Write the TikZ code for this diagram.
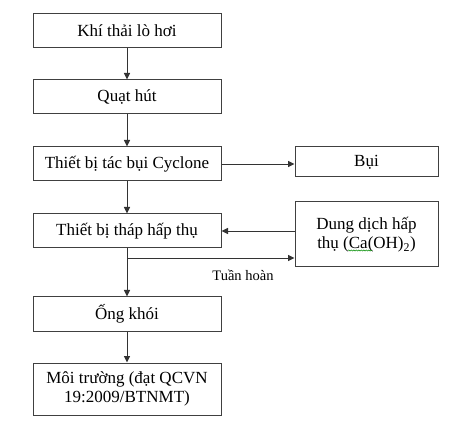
\documentclass[tikz,border=0pt]{standalone}
\usepackage{fontspec}
\setmainfont{Liberation Serif}
\usetikzlibrary{arrows.meta,decorations.pathmorphing}
\begin{document}
\begin{tikzpicture}[x=1pt,y=-1pt,
  box/.style={draw=black!75,line width=1pt,inner sep=0pt,font=\fontsize{17}{19.5}\selectfont,align=center},
  conn/.style={draw=black!80,line width=0.9pt,-{Triangle[length=6.5pt,width=6pt]}},
  line/.style={draw=black!80,line width=0.9pt},
  squig/.style={draw=green!55!black,line width=0.5pt,decorate,decoration={snake,amplitude=0.6pt,segment length=2.5pt}}]
\useasboundingbox (0,0) rectangle (468,427);
\node[box,minimum width=188pt,minimum height=34pt] (b1) at (127,31) {Khí thải lò hơi};
\node[box,minimum width=188pt,minimum height=34pt] (b2) at (127,97) {Quạt hút};
\node[box,minimum width=188pt,minimum height=34pt] (b3) at (127,164) {Thiết bị tác bụi Cyclone};
\node[box,minimum width=143pt,minimum height=30pt] (bui) at (366.5,162) {Bụi};
\node[box,minimum width=143pt,minimum height=65pt] (dd) at (366.5,234.5) {Dung dịch hấp\\thụ (Ca(OH)\textsubscript{2})};
\node[box,minimum width=188pt,minimum height=34pt] (b4) at (127,231) {Thiết bị tháp hấp thụ};
\node[box,minimum width=188pt,minimum height=34pt] (b5) at (127,314) {Ống khói};
\node[box,minimum width=188pt,minimum height=52pt] (b6) at (127,389) {Môi trường (đạt QCVN\\19:2009/BTNMT)};
\node[font=\fontsize{14.5}{17}\selectfont] (th) at (243,275) {Tuần hoàn};
\coordinate (br) at (127,258);
\coordinate (sq1) at (348,250.5);
\coordinate (sq2) at (372,250.5);
\draw[squig] (sq1) -- (sq2);
\draw[conn] (b1) -- (b2);
\draw[conn] (b2) -- (b3);
\draw[conn] (b3) -- (b4);
\draw[conn] (b3.east) -- (bui.west |- b3.east);
\draw[conn] (dd.west |- b4.east) -- (b4.east);
\draw[line] (b4.south) -- (br);
\draw[conn] (br) -- (dd.west |- br);
\draw[conn] (br) -- (b5.north);
\draw[conn] (b5) -- (b6);
\end{tikzpicture}
\end{document}
